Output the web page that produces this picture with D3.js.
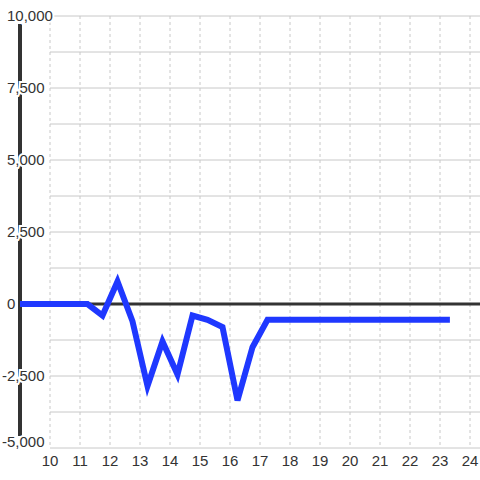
<!DOCTYPE html>
<html>
<head>
<meta charset="utf-8">
<script src="https://cdn.jsdelivr.net/npm/d3@7"></script>
<style>
  body { margin: 0; background: #fff; }
  text { font-family: "Liberation Sans", Arial, sans-serif; font-size: 15px; fill: #333; }
</style>
</head>
<body>
<svg width="480" height="480"></svg>
<script>
let width = 480, height = 480;

// data
let hours = [9, 11.25, 11.75, 12.25, 12.75, 13.25, 13.75, 14.25, 14.75, 15.25, 15.75, 16.25, 16.75, 17.25, 23.33];
let values = [0, 0, -400, 780, -600, -2850, -1300, -2450, -400, -550, -800, -3350, -1500, -550, -550];
let xTicks = [10, 11, 12, 13, 14, 15, 16, 17, 18, 19, 20, 21, 22, 23, 24];
let yTicks = [10000, 7500, 5000, 2500, 0, -2500, -5000];
let yGrid = d3.range(-5000, 10001, 1250);

let svg = d3.select("svg");

let x = d3.scaleLinear().domain([9, 25]).range([20, 500]);
let y = d3.scaleLinear().domain([-5000, 10000]).range([448, 16]);

let fmt = d3.format(",");

// horizontal grid
svg.append("g").selectAll("line")
  .data(yGrid)
  .enter().append("line")
    .attr("x1", x(10)).attr("x2", width)
    .attr("y1", d => y(d)).attr("y2", d => y(d))
    .attr("stroke", "#c8c8c8")
    .attr("stroke-width", 1);

// vertical dashed grid
svg.append("g").selectAll("line")
  .data(xTicks)
  .enter().append("line")
    .attr("x1", d => x(d)).attr("x2", d => x(d))
    .attr("y1", y(10000)).attr("y2", y(-5000))
    .attr("stroke", "#c8c8c8")
    .attr("stroke-dasharray", "3,3")
    .attr("stroke-width", 1);

// zero line
svg.append("line")
  .attr("x1", x(9)).attr("x2", width)
  .attr("y1", y(0)).attr("y2", y(0))
  .attr("stroke", "#333")
  .attr("stroke-width", 3);

// y axis line, stops short of the end labels
svg.append("line")
  .attr("x1", x(9)).attr("x2", x(9))
  .attr("y1", y(9720)).attr("y2", y(-4580))
  .attr("stroke", "#333")
  .attr("stroke-width", 4);

// y labels with a white halo that cuts the axis
svg.append("g").selectAll("text")
  .data(yTicks)
  .enter().append("text")
    .attr("x", d => d < 0 ? 2 : 7)
    .attr("y", d => Math.min(y(d), 442))
    .attr("dy", "0.35em")
    .attr("stroke", "#fff")
    .attr("stroke-width", 4)
    .attr("paint-order", "stroke")
    .text(d => fmt(d).replace("−", "-"));

// x labels
svg.append("g").selectAll("text")
  .data(xTicks)
  .enter().append("text")
    .attr("x", d => x(d))
    .attr("y", 461)
    .attr("dy", "0.35em")
    .attr("text-anchor", "middle")
    .text(d => d);

// series line
let line = d3.line()
  .x((d, i) => x(hours[i]))
  .y(d => y(d));

svg.append("path")
  .datum(values)
  .attr("fill", "none")
  .attr("stroke", "#1f38ff")
  .attr("stroke-width", 6)
  .attr("stroke-linejoin", "miter")
  .attr("d", line);
</script>
</body>
</html>
